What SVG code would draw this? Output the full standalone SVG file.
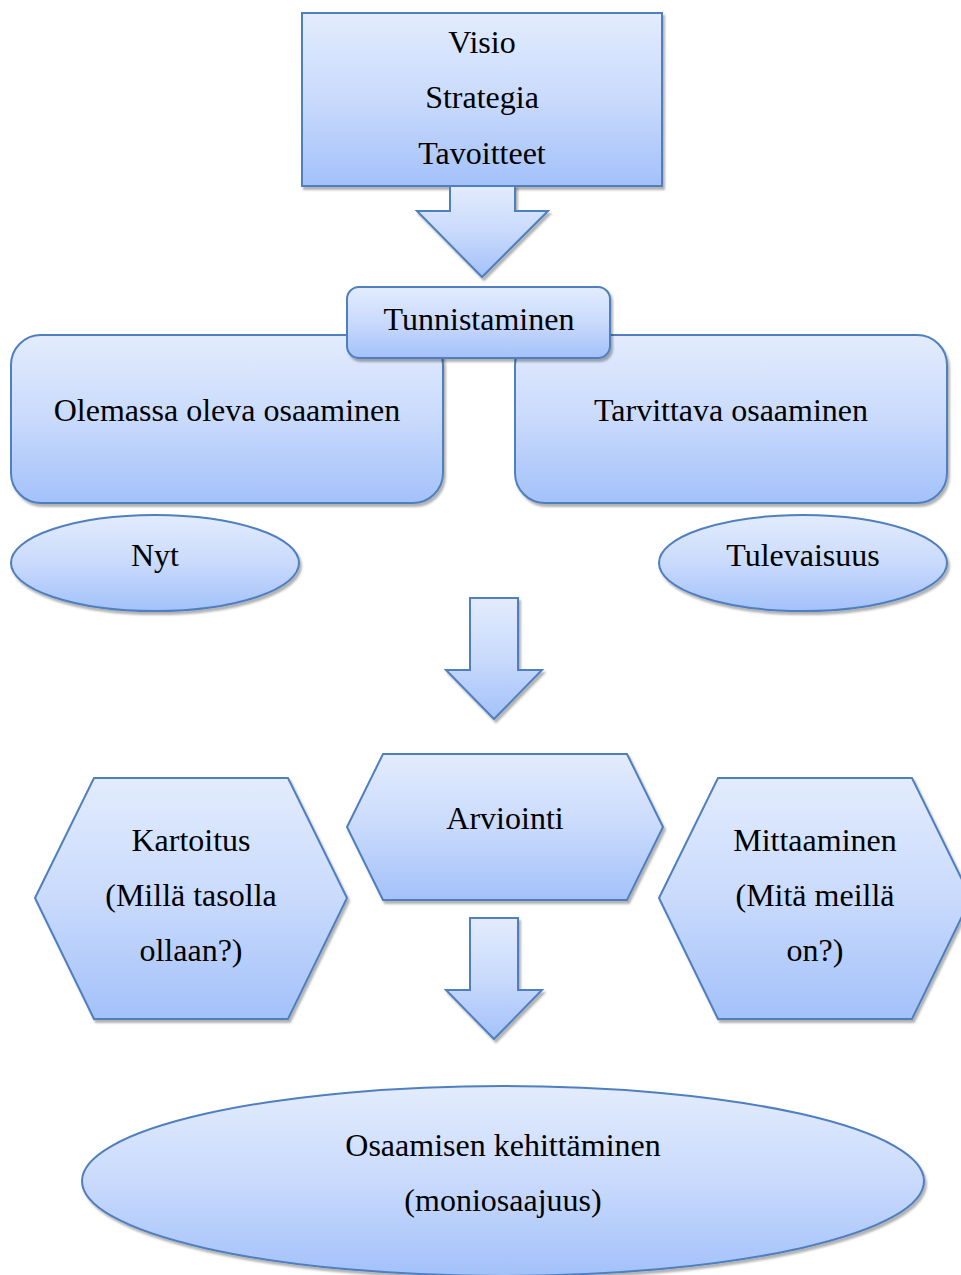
<svg xmlns="http://www.w3.org/2000/svg" width="961" height="1275" viewBox="0 0 961 1275">
  <defs>
    <linearGradient id="fillBlue" x1="0" y1="0" x2="0" y2="1">
      <stop offset="0" stop-color="#e3ecfd"/>
      <stop offset="0.5" stop-color="#c9dafc"/>
      <stop offset="1" stop-color="#a3c1fa"/>
    </linearGradient>
    <filter id="shadow" x="-5%" y="-5%" width="115%" height="120%">
      <feDropShadow dx="2" dy="3" stdDeviation="1.2" flood-color="#000" flood-opacity="0.3"/>
    </filter>
    <style>
      .shape { fill: url(#fillBlue); stroke: #4f7fbf; stroke-width: 2; filter: url(#shadow); }
      .label { font-family: 'Liberation Serif', 'DejaVu Serif', serif; font-size: 32px; fill: #000; text-anchor: middle; }
    </style>
  </defs>

  <rect width="961" height="1275" fill="#fff"/>

  <!-- Top: vision / strategy / goals -->
  <g id="visio">
    <rect class="shape" x="302" y="13" width="360" height="173"/>
    <text class="label" x="482" y="53">Visio</text>
    <text class="label" x="482" y="108">Strategia</text>
    <text class="label" x="482" y="164">Tavoitteet</text>
  </g>

  <!-- Block arrows -->
  <g id="connectors">
    <polygon class="shape" points="450,186 515,186 515,211 548,211 482,277 417,211 450,211"/>
    <polygon class="shape" points="470,598 518,598 518,670 542,670 494,719 446,670 470,670"/>
    <polygon class="shape" points="470,918 518,918 518,990 542,990 494,1039 446,990 470,990"/>
  </g>

  <!-- Identification: current and required competence -->
  <g id="olemassa">
    <rect class="shape" x="11" y="335" width="432" height="168" rx="30" ry="30"/>
    <text class="label" x="227" y="421">Olemassa oleva osaaminen</text>
  </g>
  <g id="tarvittava">
    <rect class="shape" x="515" y="335" width="432" height="168" rx="30" ry="30"/>
    <text class="label" x="731" y="421">Tarvittava osaaminen</text>
  </g>
  <g id="tunnistaminen">
    <rect class="shape" x="347" y="287" width="263" height="71" rx="12" ry="12"/>
    <text class="label" x="479" y="330">Tunnistaminen</text>
  </g>

  <g id="nyt">
    <ellipse class="shape" cx="155" cy="563" rx="144" ry="48"/>
    <text class="label" x="155" y="566">Nyt</text>
  </g>
  <g id="tulevaisuus">
    <ellipse class="shape" cx="803" cy="563" rx="144" ry="48"/>
    <text class="label" x="803" y="566">Tulevaisuus</text>
  </g>

  <!-- Assessment -->
  <g id="arviointi">
    <polygon class="shape" points="347,827 383,754 627,754 663,827 627,900 383,900"/>
    <text class="label" x="505" y="829">Arviointi</text>
  </g>
  <g id="kartoitus">
    <polygon class="shape" points="35,898 94,778 288,778 347,898 288,1019 94,1019"/>
    <text class="label" x="191" y="851">Kartoitus</text>
    <text class="label" x="191" y="906">(Millä tasolla</text>
    <text class="label" x="191" y="961">ollaan?)</text>
  </g>
  <g id="mittaaminen">
    <polygon class="shape" points="659,898 718,778 912,778 971,898 912,1019 718,1019"/>
    <text class="label" x="815" y="851">Mittaaminen</text>
    <text class="label" x="815" y="906">(Mitä meillä</text>
    <text class="label" x="815" y="961">on?)</text>
  </g>

  <!-- Development -->
  <g id="kehittaminen">
    <ellipse class="shape" cx="503" cy="1181" rx="421" ry="95"/>
    <text class="label" x="503" y="1156">Osaamisen kehittäminen</text>
    <text class="label" x="503" y="1211">(moniosaajuus)</text>
  </g>
</svg>
